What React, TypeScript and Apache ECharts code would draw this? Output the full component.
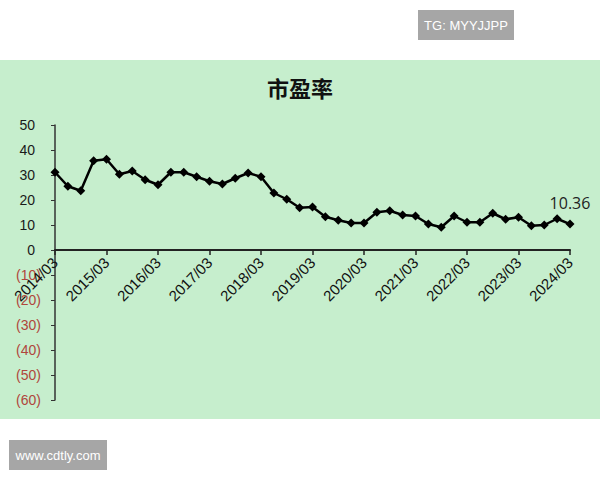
import React, { useEffect, useRef } from "react";
import * as echarts from "echarts";

const years = [2014, 2015, 2016, 2017, 2018, 2019, 2020, 2021, 2022, 2023, 2024];
const quarters = ["03", "06", "09", "12"];
const categories: string[] = [];
years.forEach((y) => {
  quarters.forEach((q) => {
    if (y === 2024 && q !== "03") return;
    categories.push(`${y}/${q}`);
  });
});

const peValues = [
  31.1, 25.5, 23.7, 35.7, 36.3, 30.3, 31.6, 28.1,
  26.1, 31.1, 31.1, 29.3, 27.5, 26.4, 28.7, 30.8,
  29.3, 22.8, 20.3, 16.9, 17.2, 13.3, 11.9, 10.8,
  10.8, 15.1, 15.7, 14.0, 13.6, 10.4, 9.1, 13.6,
  11.1, 11.1, 14.7, 12.3, 13.1, 9.7, 10.0, 12.5,
  10.36,
];

const titleText = "市盈率";
const topBadge = "TG: MYYJJPP";
const bottomBadge = "www.cdtly.com";

export default function App() {
  const ref = useRef<HTMLDivElement>(null);
  useEffect(() => {
    if (!ref.current) return;
    const chart = echarts.init(ref.current, null, { renderer: "svg" });
    const lastIdx = peValues.length - 1;
    chart.setOption({
      animation: false,
      backgroundColor: "#ffffff",
      title: {
        text: titleText,
        left: "center",
        top: 71,
        textStyle: {
          fontFamily: "Noto Sans CJK SC",
          fontSize: 22,
          fontWeight: "bold",
          color: "#111111",
        },
      },
      graphic: [
        {
          type: "rect",
          z: -10,
          shape: { x: 0, y: 60, width: 600, height: 359 },
          style: { fill: "#c6eecd" },
        },
        {
          type: "rect",
          z: 10,
          shape: { x: 418, y: 10, width: 96, height: 30 },
          style: { fill: "#a6a6a6" },
        },
        {
          type: "text",
          z: 11,
          x: 466,
          y: 25,
          style: {
            text: topBadge,
            fill: "#ffffff",
            font: "13px 'Liberation Sans'",
            align: "center",
            verticalAlign: "middle",
          },
        },
        {
          type: "rect",
          z: 10,
          shape: { x: 9, y: 440, width: 98, height: 30 },
          style: { fill: "#a6a6a6" },
        },
        {
          type: "text",
          z: 11,
          x: 58,
          y: 455,
          style: {
            text: bottomBadge,
            fill: "#ffffff",
            font: "13px 'Liberation Sans'",
            align: "center",
            verticalAlign: "middle",
          },
        },
      ],
      grid: { left: 55, right: 30, top: 125, bottom: 80, containLabel: false },
      xAxis: {
        type: "category",
        data: categories,
        boundaryGap: false,
        position: "bottom",
        offset: -150,
        axisLine: { onZero: false, lineStyle: { color: "#222222", width: 2 } },
        axisTick: { interval: 3, length: 5, lineStyle: { color: "#222222", width: 1.5 } },
        axisLabel: {
          interval: 3,
          rotate: 45,
          margin: 10,
          fontSize: 15,
          fontFamily: "Liberation Sans",
          color: "#111111",
        },
        splitLine: { show: false },
      },
      yAxis: {
        type: "value",
        min: -60,
        max: 50,
        interval: 10,
        axisLine: { show: true, lineStyle: { color: "#333333", width: 1.5 } },
        axisTick: { show: true, length: 4, lineStyle: { color: "#333333" } },
        splitLine: { show: false },
        axisLabel: {
          margin: 14,
          fontSize: 14,
          fontFamily: "Liberation Sans",
          formatter: (v: number) => (v < 0 ? `{n|(${-v})}` : `{p|${v}}`),
          rich: {
            n: { fontSize: 14, fontFamily: "Liberation Sans", color: "#b0463c" },
            p: {
              fontSize: 14,
              fontFamily: "Liberation Sans",
              color: "#1a1a1a",
              padding: [0, 6, 0, 0],
            },
          },
        },
      },
      series: [
        {
          type: "line",
          data: peValues.map((v, i) =>
            i === lastIdx
              ? {
                  value: v,
                  label: {
                    show: true,
                    position: "top",
                    distance: 9,
                    formatter: "{c}",
                    fontSize: 16,
                    fontFamily: "Open Sans",
                    color: "#222222",
                  },
                }
              : v
          ),
          symbol: "diamond",
          symbolSize: 9,
          showAllSymbol: true,
          lineStyle: { color: "#000000", width: 2.5 },
          itemStyle: { color: "#000000" },
        },
      ],
    });
    return () => chart.dispose();
  }, []);
  return (
    <div
      ref={ref}
      style={{ position: "absolute", left: 0, top: 0, width: 600, height: 480 }}
    />
  );
}
